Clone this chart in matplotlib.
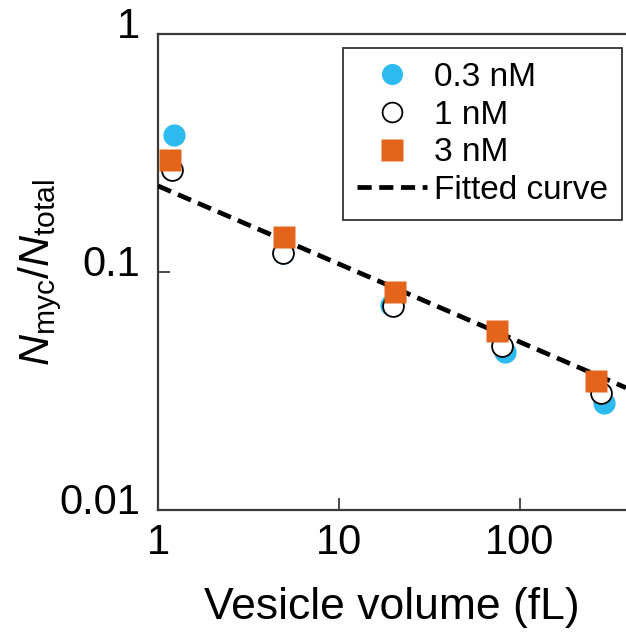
import numpy as np
import matplotlib
matplotlib.use("Agg")
import matplotlib.pyplot as plt
import matplotlib.transforms as mtransforms

plt.rcParams['font.family'] = ['Liberation Sans', 'DejaVu Sans']
plt.rcParams['mathtext.fontset'] = 'custom'
plt.rcParams['mathtext.rm'] = 'Liberation Sans'
plt.rcParams['mathtext.it'] = 'Liberation Sans:italic'

# Data
vol_03 = [1.22, 4.9, 19.5, 82.6, 291]
frac_03 = [0.376, 0.120, 0.0727, 0.0461, 0.0282]
vol_1 = [1.19, 4.9, 20.0, 80.0, 280]
frac_1 = [0.268, 0.120, 0.0720, 0.0487, 0.0310]
vol_3 = [1.17, 4.95, 20.5, 74.6, 263]
frac_3 = [0.296, 0.140, 0.0824, 0.0565, 0.0348]
fit_coef = 0.23
fit_exp = -0.328

blue = '#2DBAEE'
orange = '#E5641C'
spine_col = '#3a3a3a'

fig = plt.figure(figsize=(6.26, 6.33), dpi=100)
W, H = 626, 633
ax = fig.add_axes([158 / W, 1 - 510 / H, (626 - 158) / W, (510 - 34) / H])
ax.set_xscale('log')
ax.set_yscale('log')
xmax = 10 ** ((626 - 158) / 181)
ax.set_xlim(1, xmax)
ax.set_ylim(0.01, 1)

ms = 16
ax.plot(vol_03, frac_03, 'o', color=blue, ms=ms, mec='none', label='0.3 nM', zorder=3)
ax.plot(vol_1, frac_1, 'o', mfc='white', mec='black', mew=1.3, ms=ms - 1, label='1 nM', zorder=4)
xf = np.array([1.0, xmax])
ax.plot(xf, fit_coef * xf ** fit_exp, color='black', lw=3.4, ls=(0, (3.0, 1.6)),
        label='Fitted curve', zorder=5)
ax.plot(vol_3, frac_3, 's', color=orange, ms=ms, mec='none', label='3 nM', zorder=6)

for s in ['left', 'bottom', 'top']:
    ax.spines[s].set_color(spine_col)
    ax.spines[s].set_linewidth(1.6)
ax.spines['right'].set_visible(False)

ax.set_xticks([1, 10, 100])
ax.set_xticklabels(['1', '10', '100'])
ax.set_yticks([0.01, 0.1, 1])
ax.set_yticklabels(['0.01', '0.1', '1'])
ax.minorticks_off()
ax.tick_params(axis='both', which='major', direction='in', length=8.5, width=1.3,
               color=spine_col, labelsize=30)
ax.tick_params(axis='x', pad=9)
ax.tick_params(axis='y', pad=13)
ax.tick_params(top=False, right=False)

shift = mtransforms.ScaledTranslation(0, 11 / 100, fig.dpi_scale_trans)
for lab in ax.get_yticklabels():
    lab.set_transform(lab.get_transform() + shift)

ax.set_xlabel('Vesicle volume (fL)', fontsize=32, labelpad=18)
fig.text(16 / W, 1 - 272 / H, r'$N_{\rm myc}/N_{\rm total}$', fontsize=31,
         rotation=90, ha='left', va='center')

h, l = ax.get_legend_handles_labels()
order = [l.index('0.3 nM'), l.index('1 nM'), l.index('3 nM'), l.index('Fitted curve')]
leg = ax.legend([h[i] for i in order], [l[i] for i in order],
                loc='upper right', bbox_to_anchor=(622 / W, 1 - 48 / H),
                bbox_transform=fig.transFigure, borderaxespad=0,
                fontsize=24, frameon=True, fancybox=False, edgecolor='black',
                handlelength=2.1, handletextpad=0.2, labelspacing=0.2,
                borderpad=0.42, numpoints=1, markerscale=0.95)
leg.get_frame().set_linewidth(1.3)

fig.savefig('out.png', dpi=100)
